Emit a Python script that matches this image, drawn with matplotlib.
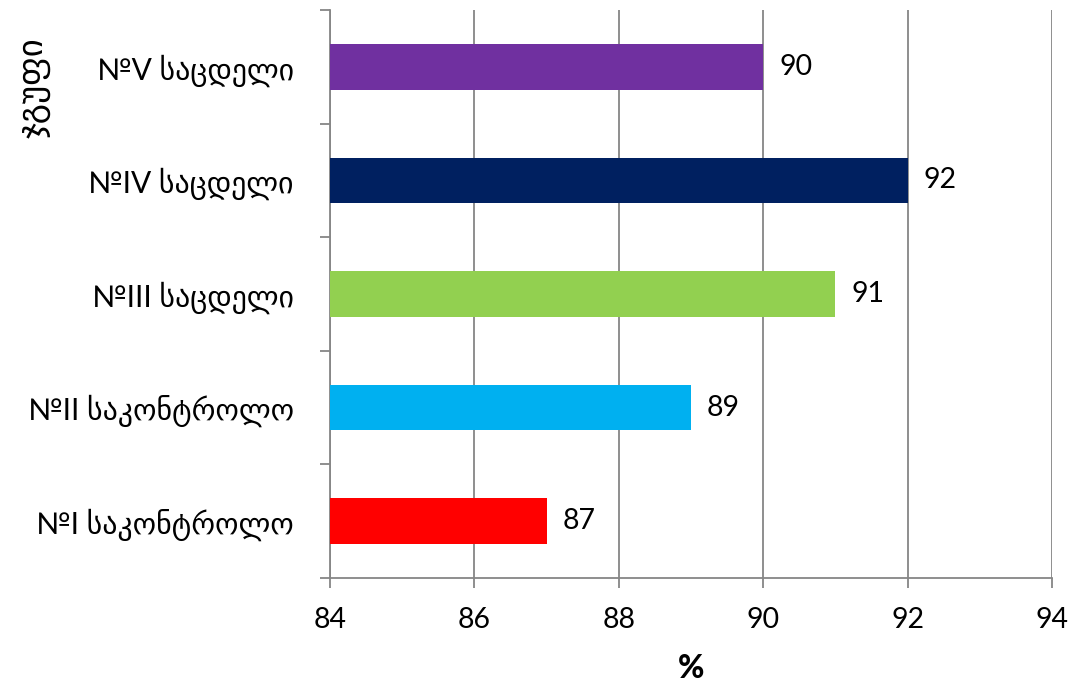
import matplotlib
matplotlib.use("Agg")
import matplotlib.pyplot as plt
from matplotlib.ticker import FixedLocator

groups = ["№I საკონტროლო", "№II საკონტროლო", "№III საცდელი", "№IV საცდელი", "№V საცდელი"]
values = [87, 89, 91, 92, 90]
colors = ["#FF0000", "#00B0F0", "#92D050", "#002060", "#7030A0"]
x_ticks = [84, 86, 88, 90, 92, 94]
x_label = "%"
y_label = "ჯგუფი"

FONT = ["Lato", "DejaVu Sans"]
plt.rcParams["font.family"] = FONT
GRID = "#868686"

fig = plt.figure(figsize=(10.76, 6.89), dpi=100)
ax = fig.add_axes([330 / 1076, 1 - 578 / 689, (1052 - 330) / 1076, (578 - 10) / 689])

pos = list(range(len(groups)))
ax.barh(pos, [v - x_ticks[0] for v in values], left=x_ticks[0], height=0.4,
        color=colors, zorder=3)

for p, v in zip(pos, values):
    ax.text(v + 0.22, p, f"{v}", va="center", ha="left", fontsize=20.5, color="black")

ax.set_xlim(x_ticks[0], x_ticks[-1])
ax.set_ylim(-0.5, len(groups) - 0.5)
ax.set_xticks(x_ticks)
ax.set_xticklabels([str(t) for t in x_ticks], fontsize=20.5)
ax.xaxis.grid(True, color=GRID, linewidth=1.3, zorder=0)
ax.tick_params(axis="x", length=7, width=1.3, color=GRID, pad=14)

ax.set_yticks(pos)
ax.set_yticklabels(groups, fontsize=21.5)
ax.tick_params(axis="y", which="major", length=0, pad=26)
ax.yaxis.set_minor_locator(FixedLocator([p + 0.5 for p in pos[:-1]] + [-0.5, len(groups) - 0.5]))
ax.tick_params(axis="y", which="minor", length=7, width=1.3, color=GRID)

for s in ["top", "right"]:
    ax.spines[s].set_visible(False)
for s in ["left", "bottom"]:
    ax.spines[s].set_color(GRID)
    ax.spines[s].set_linewidth(1.3)

fig.text(691 / 1076, 1 - 669 / 689, x_label, ha="center", va="center",
         fontsize=23, fontweight="black")
fig.text(35 / 1076, 1 - 88 / 689, y_label, ha="center", va="center",
         rotation=90, fontsize=25)

fig.savefig("out.png", dpi=100)
